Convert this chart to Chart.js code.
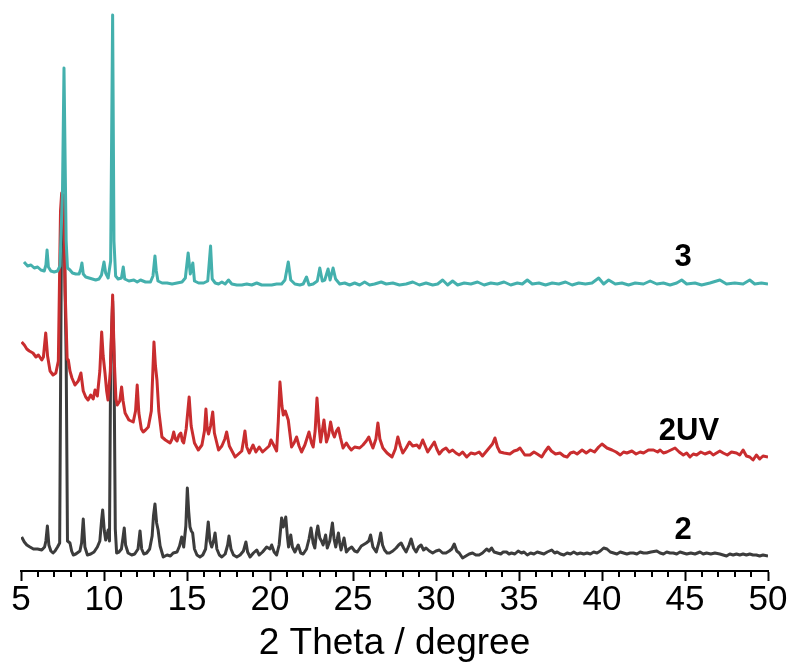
<!DOCTYPE html>
<html>
<head>
<meta charset="utf-8">
<script src="https://cdn.jsdelivr.net/npm/chart.js@4"></script>
<style>
  body { margin: 0; background: #fff; }
  #wrap { width: 794px; height: 671px; }
</style>
</head>
<body>
<div id="wrap"><canvas id="xrd"></canvas></div>
<script>
// sample names, top to bottom
let names = ['3', '2UV', '2'];

// sample 3 (teal)
let theta3 = [5.18,5.4,5.6,5.8,6.0,6.2,6.4,6.5,6.57,6.65,6.8,7.0,7.2,7.35,7.5,7.59,7.66,7.72,7.8,7.95,8.1,8.3,8.5,8.6,8.67,8.75,8.9,9.1,9.3,9.5,9.7,9.85,10.0,10.1,10.25,10.4,10.52,10.6,10.7,10.85,11.05,11.16,11.25,11.5,11.8,12.0,12.2,12.5,12.8,12.95,13.07,13.15,13.25,13.5,13.8,14.1,14.4,14.7,14.9,15.07,15.2,15.35,15.45,15.7,16.0,16.25,16.42,16.52,16.7,16.9,17.1,17.3,17.5,17.7,18.0,18.3,18.6,18.9,19.2,19.5,19.8,20.1,20.4,20.7,20.9,21.1,21.25,21.5,21.8,22.0,22.2,22.35,22.6,22.85,23.0,23.15,23.3,23.5,23.62,23.8,23.95,24.2,24.5,24.8,25.1,25.4,25.7,26.0,26.3,26.7,27.0,27.4,27.8,28.2,28.6,29.0,29.4,29.8,30.1,30.4,30.7,31.0,31.3,31.7,32.1,32.5,32.9,33.3,33.7,34.1,34.5,34.9,35.2,35.5,35.8,36.2,36.6,37.0,37.4,37.8,38.2,38.6,39.0,39.4,39.8,40.1,40.4,40.8,41.2,41.6,42.0,42.5,42.9,43.3,43.7,44.1,44.5,44.8,45.1,45.6,46.0,46.5,47.1,47.5,48.0,48.5,48.9,49.2,49.6,50.0];
let int3 = [309,305,306,303,304,301,300,306,321,304,300,299,300,305,380,503,408,330,303,301,298,297,297,302,308,297,294,293,292,291,292,296,309,298,293,310,556,330,295,292,293,304,292,290,291,289,291,289,289,295,315,300,290,288,288,287,288,289,293,318,297,308,290,288,288,290,325,292,288,287,289,287,291,287,286,286,287,286,288,286,286,286,287,287,291,309,291,287,286,287,294,286,287,290,303,290,291,302,291,303,292,287,288,286,288,286,289,286,287,289,287,288,286,287,289,286,288,286,287,291,286,290,286,288,287,289,286,288,287,289,286,288,287,291,287,288,286,288,287,289,286,288,287,288,293,287,291,287,288,286,288,287,290,287,288,286,288,291,287,288,286,288,291,287,288,287,291,287,288,287];

// sample 2UV (red)
let thetaUV = [5.04,5.2,5.35,5.5,5.72,5.9,6.05,6.25,6.35,6.49,6.6,6.75,6.93,7.1,7.25,7.38,7.45,7.52,7.58,7.66,7.78,7.85,7.95,8.07,8.25,8.45,8.61,8.75,8.9,9.04,9.2,9.35,9.46,9.6,9.75,9.86,9.95,10.06,10.16,10.24,10.38,10.52,10.62,10.72,10.8,10.95,11.06,11.15,11.27,11.5,11.76,11.9,12.0,12.1,12.25,12.36,12.5,12.67,12.85,13.01,13.1,13.19,13.3,13.49,13.7,13.98,14.1,14.2,14.3,14.4,14.52,14.63,14.72,14.8,14.95,15.13,15.25,15.45,15.68,15.9,16.05,16.14,16.22,16.3,16.42,16.55,16.65,16.9,17.1,17.28,17.39,17.55,17.9,18.1,18.3,18.42,18.49,18.6,18.75,18.98,19.15,19.35,19.55,19.75,19.95,20.06,20.25,20.4,20.5,20.6,20.72,20.8,20.92,21.1,21.3,21.45,21.6,21.75,21.9,22.1,22.35,22.5,22.6,22.72,22.83,22.95,23.05,23.25,23.4,23.52,23.65,23.78,23.88,24.0,24.12,24.25,24.4,24.6,24.75,24.9,25.1,25.4,25.6,25.8,25.95,26.1,26.2,26.38,26.5,26.62,26.8,27.05,27.35,27.55,27.7,27.85,28.0,28.2,28.4,28.6,28.85,29.0,29.2,29.35,29.5,29.7,29.9,30.05,30.2,30.4,30.6,30.8,31.0,31.2,31.4,31.6,31.85,32.1,32.35,32.6,32.8,33.0,33.25,33.4,33.55,33.7,33.85,34.1,34.45,34.7,34.9,35.06,35.35,35.66,35.9,36.1,36.37,36.55,36.77,36.95,37.2,37.47,37.7,37.9,38.1,38.3,38.5,38.8,39.05,39.3,39.55,39.8,40.0,40.3,40.6,40.85,41.1,41.3,41.5,41.8,42.05,42.3,42.5,42.8,43.1,43.35,43.5,43.7,43.9,44.15,44.4,44.65,44.9,45.1,45.3,45.5,45.7,45.95,46.2,46.5,46.7,46.9,47.1,47.3,47.55,47.8,48.1,48.3,48.5,48.7,48.9,49.1,49.3,49.5,49.7,50.0];
let intUV = [229,226,222,220,218,214,216,211,214,238,215,200,196,198,210,360,378,365,376,280,212,211,200,193,186,190,198,180,174,171,176,172,181,175,200,239,215,198,180,171,200,276,210,172,166,170,184,170,158,151,149,160,186,158,142,139,141,144,160,229,205,191,160,134,131,128,132,139,132,130,136,138,130,128,142,174,145,128,121,126,140,162,142,137,145,159,138,121,125,132,139,125,114,117,120,132,140,124,118,126,119,124,119,122,125,131,125,120,150,189,165,156,160,151,124,128,134,125,119,126,139,128,124,140,173,145,129,151,129,135,149,138,134,140,143,133,123,128,124,121,124,123,126,130,134,127,123,132,148,132,123,118,114,122,134,125,118,123,129,125,126,123,131,125,119,124,129,122,117,121,123,119,121,118,116,119,114,118,117,119,115,119,124,127,133,124,119,118,117,120,121,123,116,116,119,117,114,119,124,120,117,118,115,114,118,119,117,121,118,121,119,124,127,123,121,119,116,119,118,120,117,119,118,121,121,119,121,118,119,121,123,119,116,118,114,117,116,119,117,119,116,118,120,118,116,119,118,116,121,115,114,111,116,112,115,114];

// sample 2 (dark grey)
let theta2 = [5.04,5.2,5.35,5.54,5.75,6.0,6.25,6.42,6.5,6.59,6.68,6.8,6.93,7.05,7.2,7.33,7.4,7.45,7.52,7.58,7.66,7.72,7.8,7.95,8.05,8.15,8.3,8.55,8.65,8.75,8.85,9.0,9.2,9.4,9.6,9.75,9.85,9.92,10.02,10.1,10.18,10.25,10.33,10.4,10.52,10.6,10.68,10.76,10.9,11.05,11.15,11.22,11.3,11.45,11.67,11.85,12.05,12.17,12.27,12.4,12.57,12.75,12.9,12.98,13.07,13.17,13.26,13.38,13.57,13.8,14.0,14.17,14.4,14.55,14.68,14.8,14.93,15.02,15.1,15.18,15.26,15.34,15.45,15.6,15.78,15.95,16.12,16.28,16.38,16.49,16.6,16.69,16.8,16.95,17.1,17.3,17.45,17.53,17.65,17.8,18.0,18.2,18.4,18.55,18.65,18.8,19.0,19.2,19.35,19.55,19.8,20.0,20.1,20.25,20.4,20.55,20.7,20.8,20.95,21.05,21.12,21.25,21.35,21.5,21.7,21.85,22.0,22.2,22.35,22.47,22.6,22.7,22.8,22.88,23.0,23.1,23.2,23.35,23.45,23.6,23.76,23.86,23.96,24.12,24.2,24.28,24.46,24.6,24.75,24.92,25.1,25.26,25.5,25.8,25.95,26.06,26.2,26.4,26.55,26.67,26.78,26.9,27.05,27.2,27.4,27.6,27.75,27.9,28.05,28.2,28.38,28.5,28.65,28.8,28.95,29.1,29.25,29.4,29.6,29.8,30.0,30.2,30.4,30.6,30.8,30.95,31.1,31.25,31.4,31.6,31.8,32.0,32.2,32.4,32.6,32.8,33.05,33.2,33.35,33.5,33.7,33.9,34.05,34.25,34.4,34.55,34.75,34.95,35.15,35.3,35.5,35.7,35.9,36.1,36.3,36.5,36.7,36.97,37.15,37.3,37.5,37.7,37.9,38.1,38.3,38.5,38.7,38.9,39.1,39.3,39.5,39.7,39.9,40.1,40.3,40.5,40.7,40.9,41.1,41.3,41.5,41.7,41.9,42.1,42.3,42.5,42.7,42.95,43.3,43.5,43.7,43.9,44.1,44.3,44.5,44.7,44.9,45.1,45.35,45.6,45.9,46.1,46.3,46.55,46.8,47.1,47.3,47.5,47.7,47.9,48.1,48.3,48.5,48.7,48.9,49.1,49.3,49.5,49.7,50.0];
let int2 = [34,29,26,24,22,22,21,24,30,45,26,20,18,20,24,28,230,372,360,368,275,215,30,28,20,16,17,20,28,52,24,16,17,19,24,30,50,61,40,31,36,41,30,206,270,215,42,18,19,22,34,43,26,18,16,17,22,40,22,17,18,22,35,55,67,48,41,25,14,16,15,18,19,25,34,24,45,83,60,44,40,38,22,16,14,16,22,49,30,24,30,38,22,16,14,17,26,35,22,16,14,16,20,29,19,14,18,21,16,19,24,22,26,19,16,26,53,44,54,34,24,36,24,19,26,18,17,22,32,43,28,23,38,45,33,30,26,36,23,30,48,32,24,38,28,21,33,19,22,24,20,19,25,28,30,36,24,19,28,38,26,21,18,18,20,23,26,28,23,19,26,32,23,19,24,26,21,23,20,18,20,21,18,18,20,22,27,20,18,13,15,17,18,16,16,18,22,20,23,19,18,17,19,19,17,18,17,20,18,19,16,18,17,19,18,17,19,21,18,19,17,16,18,17,19,17,18,17,18,17,19,18,20,23,22,19,18,17,19,18,17,18,18,17,19,18,18,19,20,18,17,19,18,18,17,19,18,17,18,17,19,17,18,17,18,17,16,15,17,16,17,16,17,16,17,16,16,15,16,15];

let colors = ['#44B0AD', '#C92D2F', '#3C3C3C'];

function pts(xs, ys) {
    return xs.map((x, i) => ({ x: x, y: ys[i] }));
}

// minor ticks + sample names
const extras = {
    id: 'extras',
    afterDraw(chart) {
        let ctx = chart.ctx;
        let xs = chart.scales.x;
        let ys = chart.scales.y;
        let area = chart.chartArea;
        ctx.save();
        ctx.strokeStyle = '#000';
        ctx.lineWidth = 2;
        for (let v = 5; v <= 50; v++) {
            if (v % 5 == 0) continue;
            let px = Math.round(xs.getPixelForValue(v));
            ctx.beginPath();
            ctx.moveTo(px, area.bottom);
            ctx.lineTo(px, area.bottom + 6);
            ctx.stroke();
        }
        ctx.fillStyle = '#000';
        ctx.font = 'bold 31px "Liberation Sans", Arial, sans-serif';
        ctx.textAlign = 'center';
        ctx.textBaseline = 'middle';
        let lx = [44.88, 45.24, 44.88];
        let ly = [314, 140, 41];
        names.forEach((n, i) => {
            ctx.fillText(n, xs.getPixelForValue(lx[i]), ys.getPixelForValue(ly[i]));
        });
        ctx.restore();
    }
};

new Chart(document.getElementById('xrd'), {
    type: 'line',
    data: {
        datasets: [
            { label: names[0], data: pts(theta3, int3), borderColor: colors[0], order: 0 },
            { label: names[1], data: pts(thetaUV, intUV), borderColor: colors[1], order: 1 },
            { label: names[2], data: pts(theta2, int2), borderColor: colors[2], order: 2 }
        ]
    },
    options: {
        responsive: true,
        maintainAspectRatio: false,
        animation: false,
        layout: { padding: { left: 21, right: 26, top: 11, bottom: 0 } },
        elements: {
            line: { borderWidth: 3, tension: 0, fill: false, borderJoinStyle: 'round' },
            point: { radius: 0 }
        },
        plugins: { legend: { display: false }, tooltip: { enabled: false } },
        scales: {
            x: {
                type: 'linear',
                min: 5,
                max: 50,
                afterFit(scale) { scale.height = 100; },
                border: { display: true, color: '#000', width: 2 },
                grid: { drawOnChartArea: false, drawTicks: true, tickLength: 10, tickWidth: 2, tickColor: '#000' },
                ticks: {
                    stepSize: 5,
                    autoSkip: false,
                    maxRotation: 0,
                    padding: -2,
                    color: '#000',
                    font: { family: '"Liberation Sans", Arial, sans-serif', size: 35 }
                },
                title: {
                    display: true,
                    text: '2 Theta / degree',
                    color: '#000',
                    padding: { top: 0, bottom: 5 },
                    font: { family: '"Liberation Sans", Arial, sans-serif', size: 37 }
                }
            },
            y: {
                display: false,
                min: 0,
                max: 560
            }
        }
    },
    plugins: [extras]
});
</script>
</body>
</html>
